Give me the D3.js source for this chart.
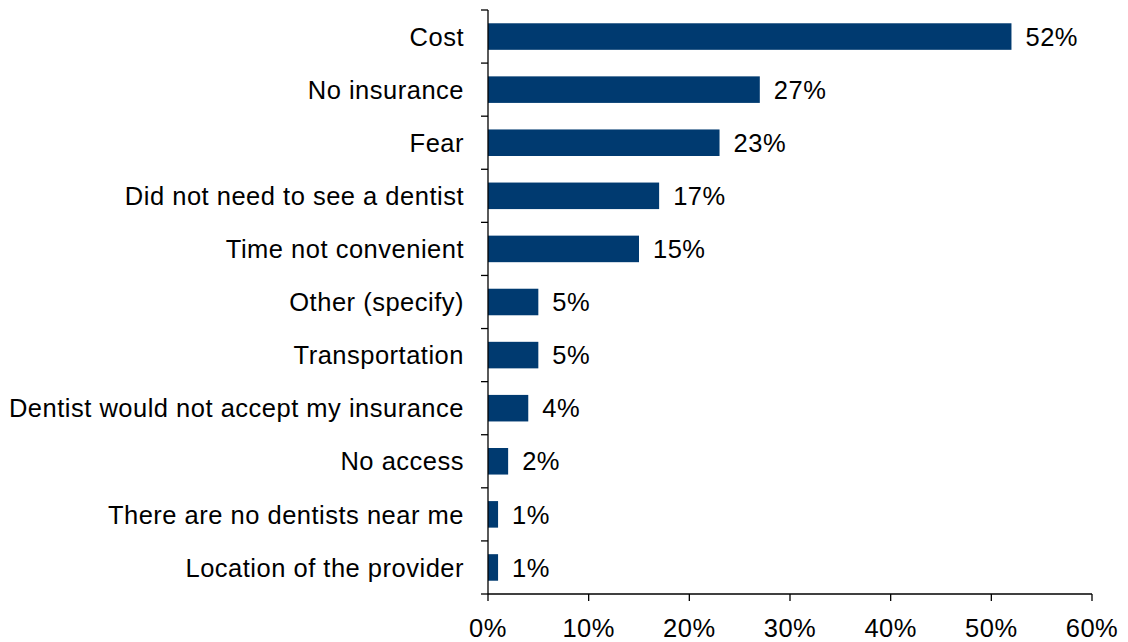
<!DOCTYPE html>
<html><head><meta charset="utf-8">
<script src="https://cdn.jsdelivr.net/npm/d3@7"></script>
<style>body{margin:0;background:#fff}svg{display:block}text{font-family:"Liberation Sans",Arial,sans-serif;fill:#000;letter-spacing:0.5px}</style>
</head><body><svg id="c" width="1128" height="642"></svg>
<script>
const categories = ["Cost","No insurance","Fear","Did not need to see a dentist","Time not convenient","Other (specify)","Transportation","Dentist would not accept my insurance","No access","There are no dentists near me","Location of the provider"];
const values = [52,27,23,17,15,5,5,4,2,1,1];
const xTicks = [0,10,20,30,40,50,60];

const svg = d3.select("#c");
const fs = 25.5;
const mLeft = 488, mRight = 1092, mTop = 10, mBottom = 594;
const x = d3.scaleLinear().domain([0,60]).range([mLeft,mRight]);
const y = d3.scaleBand().domain(categories).range([mTop,mBottom]).paddingInner(0.5).paddingOuter(0.25);
const yb = d3.scaleBand().domain(categories).range([mTop,mBottom]);

// bars
svg.selectAll("rect.bar").data(categories).enter().append("rect")
  .attr("x", x(0)).attr("y", d=>y(d)).attr("height", y.bandwidth())
  .attr("width", (d,i)=>x(values[i])-x(0)).attr("fill","#003A70");

// value labels
svg.selectAll("text.val").data(categories).enter().append("text")
  .attr("x",(d,i)=>x(values[i])+14).attr("y",d=>y(d)+y.bandwidth()/2)
  .attr("dy","0.36em").attr("font-size",fs).text((d,i)=>values[i]+"%");

// y axis line and ticks at band boundaries
const ax = svg.append("g").attr("stroke","#000").attr("stroke-width",1.3);
ax.append("line").attr("x1",mLeft).attr("x2",mLeft).attr("y1",mTop).attr("y2",mBottom);
const bounds = categories.map(d=>yb(d)).concat([mBottom]);
ax.selectAll("line.yt").data(bounds).enter().append("line")
  .attr("x1",mLeft-7).attr("x2",mLeft).attr("y1",d=>d).attr("y2",d=>d);
// x axis
ax.append("line").attr("x1",mLeft).attr("x2",mRight).attr("y1",mBottom).attr("y2",mBottom);
ax.selectAll("line.xt").data(xTicks).enter().append("line")
  .attr("x1",d=>x(d)).attr("x2",d=>x(d)).attr("y1",mBottom).attr("y2",mBottom+7);

// category labels
svg.selectAll("text.cat").data(categories).enter().append("text")
  .attr("x",mLeft-24).attr("y",d=>yb(d)+yb.bandwidth()/2).attr("dy","0.36em")
  .attr("text-anchor","end").attr("font-size",fs).text(d=>d);

// x tick labels
svg.selectAll("text.xl").data(xTicks).enter().append("text")
  .attr("x",d=>x(d)).attr("y",628).attr("dy","0.36em")
  .attr("text-anchor","middle").attr("font-size",fs).text(d=>d+"%");
</script></body></html>
